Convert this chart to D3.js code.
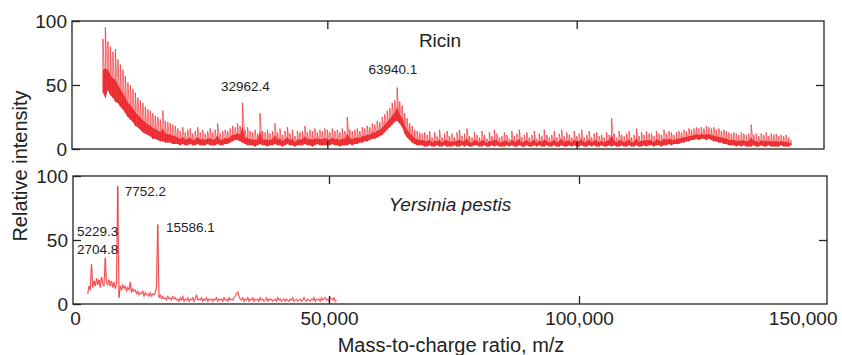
<!DOCTYPE html>
<html>
<head>
<meta charset="utf-8">
<script src="https://cdn.jsdelivr.net/npm/d3@7"></script>
<style>
  body { margin: 0; background: #fff; }
  svg text { font-family: "Liberation Sans", Arial, sans-serif; fill: #222; }
</style>
</head>
<body>
<svg id="chart" width="842" height="355"></svg>
<script>
// Ricin spectrum: per 500 m/z bin (from 5000) the top and bottom of the noisy trace
const ricinStart = 5000, ricinStep = 500;
const ricinHigh = [
  86, 95, 84, 80, 76, 78, 70, 66, 62, 57,
  52, 50, 47, 44, 40, 38, 36, 33, 31, 30,
  28, 26, 25, 23, 30, 22, 21, 20, 19, 18,
  16, 14, 17, 13, 15, 16, 12, 14, 17, 13,
  15, 12, 14, 16, 13, 15, 20, 12, 14, 15,
  14, 16, 18, 17, 20, 18, 36, 15, 17, 14,
  13, 15, 12, 28, 14, 13, 15, 12, 14, 20,
  13, 16, 11, 14, 17, 12, 15, 10, 14, 13,
  14, 18, 13, 15, 14, 16, 13, 15, 14, 16,
  15, 13, 16, 14, 15, 13, 16, 14, 25, 15,
  14, 15, 16, 14, 17, 16, 18, 17, 20, 19,
  22, 21, 25, 27, 30, 32, 36, 38, 48, 37,
  34, 28, 24, 20, 18, 15, 14, 13, 12, 13,
  11, 14, 9, 13, 10, 15, 9, 12, 14, 10,
  12, 9, 13, 15, 10, 12, 16, 10, 9, 13,
  11, 9, 14, 11, 8, 13, 10, 15, 12, 9,
  10, 13, 11, 8, 14, 10, 12, 15, 9, 11,
  13, 9, 11, 14, 8, 12, 10, 15, 11, 9,
  11, 14, 9, 12, 15, 10, 13, 11, 9, 14,
  10, 12, 15, 9, 11, 14, 9, 12, 13, 10,
  11, 9, 13, 11, 24, 12, 9, 14, 11, 10,
  12, 14, 9, 11, 16, 10, 13, 11, 14, 12,
  12, 10, 14, 12, 11, 15, 12, 14, 13, 11,
  13, 14, 13, 15, 14, 16, 15, 16, 17, 16,
  17, 16, 18, 17, 16, 17, 15, 16, 14, 15,
  14, 13, 12, 13, 12, 11, 13, 12, 11, 12,
  19, 11, 12, 10, 12, 11, 13, 10, 12, 11,
  12, 10, 11, 10, 11, 9, 7
];
const ricinLow = [
  44, 40, 46, 42, 40, 37, 36, 33, 31, 28,
  25, 23, 21, 18, 17, 15, 13, 12, 11, 10,
  8, 8, 7, 6, 6, 5, 5, 5, 4, 4,
  4, 3, 4, 3, 3, 4, 3, 3, 4, 3,
  3, 3, 4, 3, 3, 3, 4, 3, 3, 4,
  4, 5, 6, 7, 7, 6, 5, 4, 3, 3,
  3, 2, 3, 4, 3, 3, 2, 3, 3, 4,
  3, 3, 2, 3, 4, 3, 3, 2, 3, 3,
  3, 4, 3, 3, 2, 3, 4, 3, 3, 3,
  3, 3, 4, 3, 3, 2, 3, 3, 3, 4,
  3, 4, 4, 5, 5, 6, 6, 7, 8, 8,
  9, 10, 11, 13, 15, 17, 19, 21, 22, 20,
  17, 12, 9, 7, 5, 4, 3, 3, 3, 2,
  2, 3, 2, 2, 3, 2, 2, 3, 2, 2,
  2, 3, 2, 2, 3, 2, 3, 2, 2, 3,
  3, 2, 2, 3, 2, 2, 3, 2, 3, 2,
  2, 2, 3, 2, 3, 2, 2, 3, 2, 2,
  3, 2, 2, 3, 2, 3, 2, 2, 3, 2,
  2, 3, 2, 2, 3, 2, 2, 3, 2, 3,
  2, 2, 3, 2, 2, 3, 2, 3, 2, 2,
  3, 2, 2, 3, 2, 3, 2, 2, 3, 2,
  2, 3, 2, 2, 3, 2, 2, 3, 2, 3,
  3, 2, 3, 3, 2, 3, 3, 4, 3, 4,
  4, 4, 5, 5, 6, 6, 7, 7, 8, 7,
  8, 8, 7, 8, 7, 6, 6, 5, 5, 4,
  4, 3, 3, 3, 2, 3, 2, 3, 2, 2,
  2, 3, 2, 2, 3, 2, 2, 3, 2, 2,
  2, 2, 3, 2, 2, 2, 3
];

// Yersinia pestis spectrum, sampled every 250 m/z starting at 1750
const yersiniaStart = 1750, yersiniaStep = 250;
const yersiniaIntensity = [
  8, 14, 11, 31, 13, 18, 14, 20, 15, 19,
  13, 21, 16, 14, 36, 17, 15, 19, 14, 18,
  13, 17, 12, 16, 92, 5, 14, 11, 15, 12,
  14, 10, 13, 11, 17, 9, 12, 10, 11, 8,
  10, 7, 9, 8, 10, 6, 9, 7, 8, 6,
  9, 6, 8, 7, 9, 13, 62, 5, 7, 4,
  6, 4, 5, 3, 6, 4, 5, 3, 6, 4,
  5, 3, 4, 2, 5, 3, 6, 2, 4, 3,
  5, 2, 4, 3, 5, 2, 4, 7, 3, 4,
  3, 5, 2, 4, 3, 5, 2, 4, 3, 4,
  2, 4, 3, 5, 2, 4, 3, 4, 2, 5,
  3, 4, 2, 5, 3, 4, 3, 5, 6, 8,
  9.5, 6, 4, 3, 5, 2, 4, 3, 5, 2,
  4, 3, 5, 2, 4, 3, 4, 2, 5, 3,
  4, 2, 3, 5, 2, 4, 3, 4, 2, 3,
  4, 2, 5, 3, 4, 2, 3, 4, 2, 4,
  3, 2, 4, 3, 5, 2, 3, 4, 2, 3,
  4, 2, 3, 5, 3, 2, 4, 3, 2, 4,
  3, 5, 2, 4, 3, 4, 2, 5, 3, 4,
  5, 3, 4, 2, 5, 4, 3, 5, 2, 3
];

const xTicks = [0, 50000, 100000, 150000];
const xTickLabels = ["0", "50,000", "100,000", "150,000"];
const yTicks = [0, 50, 100];

const ricinPeaks = [32962.4, 63940.1];
const yersiniaPeaks = [2704.8, 5229.3, 7752.2, 15586.1];

const svg = d3.select("#chart");
const red = "#ec2227";
const x = d3.scaleLinear().domain([-1200, 149600]);

function frameAndAxes(g, xs, y, w, h, xLabels) {
  g.append("rect").attr("width", w).attr("height", h)
    .attr("fill", "none").attr("stroke", "#222").attr("stroke-width", 1.3);

  const tidy = sel => {
    sel.select(".domain").remove();
    sel.selectAll(".tick line").attr("stroke", "#222").attr("stroke-width", 1.3);
  };

  g.append("g")
    .call(d3.axisLeft(y).tickValues(yTicks).tickSizeInner(-8).tickSizeOuter(0).tickPadding(5))
    .call(tidy)
    .selectAll("text").attr("font-size", 19).attr("font-family", null);

  g.append("g").attr("transform", `translate(${w},0)`)
    .call(d3.axisRight(y).tickValues([50]).tickSizeInner(-8).tickSizeOuter(0).tickFormat(""))
    .call(tidy);

  g.append("g")
    .call(d3.axisTop(xs).tickValues([50000, 100000]).tickSizeInner(-8).tickSizeOuter(0).tickFormat(""))
    .call(tidy);

  g.append("g").attr("transform", `translate(0,${h})`)
    .call(d3.axisBottom(xs).tickValues([50000, 100000]).tickSizeInner(-8).tickSizeOuter(0).tickFormat(""))
    .call(tidy);

  if (xLabels) {
    const lab = g.append("g").attr("transform", `translate(0,${h})`)
      .call(d3.axisBottom(xs).tickValues(xTicks).tickSize(0).tickPadding(8)
        .tickFormat((d, i) => xTickLabels[i]));
    lab.select(".domain").remove();
    lab.selectAll("text").attr("font-size", 19).attr("font-family", null);
    lab.selectAll(".tick").filter(d => d === 0).select("text").attr("dx", -4);
    lab.selectAll(".tick").filter(d => d === 150000).select("text")
      .attr("text-anchor", "end").attr("dx", 8);
  }
}

// ---- top panel: Ricin
{
  const left = 72, top = 21, w = 824 - 72, h = 149 - 21;
  const xs = x.copy().range([0, w]);
  const y = d3.scaleLinear().domain([0, 100]).range([h, 0]);
  const g = svg.append("g").attr("transform", `translate(${left},${top})`);
  const mz = i => ricinStart + i * ricinStep;

  // pale streaks over the full spread of each bin
  g.append("g").selectAll("line")
    .data(ricinHigh)
    .join("line")
    .attr("x1", (d, i) => xs(mz(i))).attr("x2", (d, i) => xs(mz(i)))
    .attr("y1", (d, i) => y(ricinLow[i])).attr("y2", d => y(d))
    .attr("stroke", red).attr("stroke-width", 1.4).attr("stroke-opacity", 0.3);

  // dense core of the trace
  g.append("path").datum(ricinHigh)
    .attr("d", d3.area()
      .x((d, i) => xs(mz(i)))
      .y0((d, i) => y(ricinLow[i]))
      .y1((d, i) => y(ricinLow[i] + (d - ricinLow[i]) * 0.42)))
    .attr("fill", red).attr("fill-opacity", 0.88);

  // the noisy trace itself, swinging between the bin bottom and top
  const pts = [];
  ricinHigh.forEach((d, i) => { pts.push([mz(i), ricinLow[i]], [mz(i), d]); });
  g.append("path").datum(pts)
    .attr("d", d3.line().x(d => xs(d[0])).y(d => y(d[1])))
    .attr("fill", "none").attr("stroke", red)
    .attr("stroke-width", 0.8).attr("stroke-opacity", 0.65);

  frameAndAxes(g, xs, y, w, h, false);

  g.append("text").attr("x", 440 - left).attr("y", 47 - top)
    .attr("text-anchor", "middle").attr("font-size", 19).text("Ricin");

  g.append("text").attr("x", xs(ricinPeaks[0]) + 3).attr("y", 91 - top)
    .attr("text-anchor", "middle").attr("font-size", 13.5).text(ricinPeaks[0].toFixed(1));
  g.append("text").attr("x", xs(ricinPeaks[1]) - 4).attr("y", 74 - top)
    .attr("text-anchor", "middle").attr("font-size", 13.5).text(ricinPeaks[1].toFixed(1));
}

// ---- bottom panel: Yersinia pestis
{
  const left = 73, top = 176, w = 827 - 73, h = 304 - 176;
  const xs = x.copy().range([0, w]);
  const y = d3.scaleLinear().domain([0, 100]).range([h, 0]);
  const g = svg.append("g").attr("transform", `translate(${left},${top})`);
  const line = d3.line()
    .x((d, i) => xs(yersiniaStart + i * yersiniaStep))
    .y(d => y(d));

  g.append("path").datum(yersiniaIntensity)
    .attr("d", line).attr("fill", "none")
    .attr("stroke", red).attr("stroke-width", 1.8).attr("stroke-opacity", 0.22);
  g.append("path").datum(yersiniaIntensity)
    .attr("d", line).attr("fill", "none")
    .attr("stroke", red).attr("stroke-width", 0.8).attr("stroke-opacity", 0.95);

  frameAndAxes(g, xs, y, w, h, true);

  g.append("text").attr("x", 450 - left).attr("y", 211 - top)
    .attr("text-anchor", "middle").attr("font-size", 19).attr("font-style", "italic")
    .text("Yersinia pestis");

  const notes = [
    { x: 77 - left, y: 254 - top },
    { x: 77 - left, y: 236 - top },
    { x: xs(yersiniaPeaks[2]) + 7, y: 196 - top },
    { x: xs(yersiniaPeaks[3]) + 9, y: 232 - top }
  ];
  yersiniaPeaks.forEach((p, i) => {
    g.append("text").attr("x", notes[i].x).attr("y", notes[i].y)
      .attr("font-size", 13.5).text(p.toFixed(1));
  });
}

svg.append("text")
  .attr("transform", "translate(27,166) rotate(-90)")
  .attr("text-anchor", "middle").attr("font-size", 20)
  .text("Relative intensity");

svg.append("text")
  .attr("x", 451).attr("y", 352)
  .attr("text-anchor", "middle").attr("font-size", 20)
  .text("Mass-to-charge ratio, m/z");
</script>
</body>
</html>
